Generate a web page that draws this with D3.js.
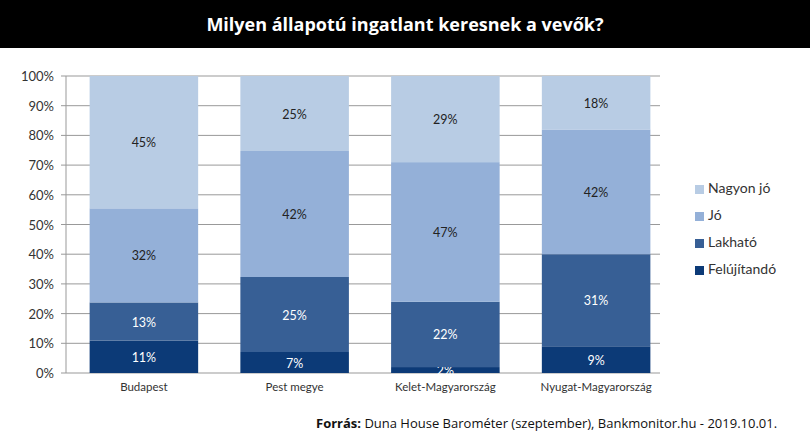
<!DOCTYPE html>
<html><head><meta charset="utf-8">
<script src="https://cdn.jsdelivr.net/npm/d3@7"></script>
<style>body{margin:0;background:#fff}</style>
</head><body><svg width="810" height="435"></svg>
<script>
const regions = ["Budapest", "Pest megye", "Kelet-Magyarország", "Nyugat-Magyarország"];
const series = ["Felújítandó", "Lakható", "Jó", "Nagyon jó"];
const felujitando = [11, 7, 2, 9];
const lakhato = [13, 25, 22, 31];
const jo = [32, 42, 47, 42];
const nagyonJo = [45, 25, 29, 18];
const yTicks = [0, 10, 20, 30, 40, 50, 60, 70, 80, 90, 100];

const colors = ["#0c3a77", "#375f95", "#94b0d8", "#b8cce4"];
const textColors = ["#fff", "#fff", "#222", "#222"];
const values = [felujitando, lakhato, jo, nagyonJo];

const data = regions.map((r, i) => {
    let row = {region: r};
    series.forEach((s, k) => row[s] = values[k][i]);
    return row;
});

let svg = d3.select("svg");

//Title bar
svg.append("rect").attr("x", 0).attr("y", 0).attr("width", 810).attr("height", 48).attr("fill", "#000");
svg.append("text").attr("x", 405).attr("y", 31).attr("text-anchor", "middle")
    .attr("font-family", "Open Sans").attr("font-weight", "bold").attr("font-size", 18)
    .attr("fill", "#fff").text("Milyen állapotú ingatlant keresnek a vevők?");

//Scales
let xscale = d3.scaleBand().domain(regions).range([64, 676]).paddingInner(0.28).paddingOuter(0.17);
let yscale = d3.scaleLinear().domain([0, 1]).range([373, 76]);

//Grid
svg.append("g").selectAll("line").data(yTicks).enter().append("line")
    .attr("x1", 61).attr("x2", 660)
    .attr("y1", d => yscale(d / 100)).attr("y2", d => yscale(d / 100))
    .attr("stroke", "#999").attr("stroke-width", 1);
svg.append("line").attr("x1", 66).attr("x2", 66).attr("y1", yscale(0)).attr("y2", yscale(1))
    .attr("stroke", "#999");

svg.append("g").selectAll("text").data(yTicks).enter().append("text")
    .attr("x", 54).attr("y", d => yscale(d / 100) + 5).attr("text-anchor", "end")
    .attr("font-family", "Lato").attr("font-size", 13).attr("fill", "#333")
    .text(d => d + "%");

//Bars (each bar filled to 100%)
let stacked = d3.stack().keys(series).offset(d3.stackOffsetExpand)(data);
stacked.forEach((layer, k) => {
    let g = svg.append("g");
    g.selectAll("rect").data(layer).enter().append("rect")
        .attr("x", d => xscale(d.data.region))
        .attr("width", xscale.bandwidth())
        .attr("y", d => yscale(d[1]))
        .attr("height", d => yscale(d[0]) - yscale(d[1]))
        .attr("fill", colors[k]);
    g.selectAll("text").data(layer).enter().append("text")
        .attr("x", d => xscale(d.data.region) + xscale.bandwidth() / 2)
        .attr("y", d => (yscale(d[0]) + yscale(d[1])) / 2 + 5)
        .attr("text-anchor", "middle")
        .attr("font-family", "Lato").attr("font-size", 12.5).attr("fill", textColors[k])
        .text(d => d.data[layer.key] + "%");
});

//X labels
svg.append("g").selectAll("text").data(regions).enter().append("text")
    .attr("x", d => xscale(d) + xscale.bandwidth() / 2).attr("y", 391)
    .attr("text-anchor", "middle").attr("font-family", "Lato").attr("font-size", 11.5).attr("fill", "#333")
    .text(d => d);

//Legend
let legendOrder = [3, 2, 1, 0];
let legend = svg.append("g").selectAll("g").data(legendOrder).enter().append("g")
    .attr("transform", (d, i) => "translate(695," + (193 + i * 27) + ")");
legend.append("rect").attr("width", 9).attr("height", 9).attr("y", -8).attr("fill", d => colors[d]);
legend.append("text").attr("x", 13).attr("font-family", "Lato").attr("font-size", 14).attr("fill", "#333")
    .text(d => series[d]);

//Source
let src = svg.append("text").attr("x", 316).attr("y", 428)
    .attr("font-family", "Open Sans").attr("font-size", 13).attr("fill", "#111");
src.append("tspan").attr("font-weight", "bold").text("Forrás:");
src.append("tspan").text(" Duna House Barométer (szeptember), Bankmonitor.hu - 2019.10.01.");
</script></body></html>
